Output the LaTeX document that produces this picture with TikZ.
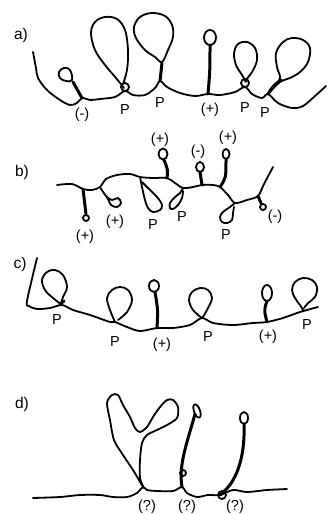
\documentclass[tikz,border=0pt]{standalone}
\usepackage{fontspec}
\setmainfont{Liberation Sans}
\begin{document}
\begin{tikzpicture}[x=1pt,y=-1pt,
  strand/.style={line width=1.8pt,line cap=round,line join=round},
  twist/.style={line width=3pt,line cap=round,line join=round},
  lbl/.style={font=\fontsize{14.5}{16}\selectfont,inner sep=0pt},
  panel/.style={font=\fontsize{15.5}{17}\selectfont,inner sep=0pt}]
\useasboundingbox (0,0) rectangle (327,514);

% ---------------- a) ----------------
\node[panel] (la) at (21,35) {a)};
\draw[strand] plot[smooth,tension=0.55] coordinates {(33,52) (36,68) (38,78) (47,90) (60,100) (70,105) (77,103) (82,98) (90,100) (100,99) (115,97) (125,91) (133,95) (145,95) (155,88) (160,81) (167,87) (180,93) (195,96) (208,94) (220,95) (235,92) (245,87) (252,94) (262,98) (268,94) (278,103) (292,108) (303,106) (315,96) (326,86)};
% (-) loop
\draw[twist] (82,98) .. controls (78,90) .. (73,82);
\draw[strand] plot[smooth cycle,tension=0.7] coordinates {(72,80) (66,81) (60,78) (59,72) (64,68) (70,70)};
% P loop 1
\draw[strand] (125,87) circle (4);
\draw[strand] plot[smooth,tension=0.6] coordinates {(123,84) (127,70) (128,50) (125,30) (117,19) (105,17) (95,22) (91,33) (95,50) (105,65) (116,78) (124,88)};
% P loop 2
\draw[twist] (160,81) -- (162,63);
\draw[strand] plot[smooth cycle,tension=0.6] coordinates {(162,62) (168,50) (173,37) (172,25) (165,16) (152,13) (140,17) (134,27) (136,38) (145,50) (155,57)};
% (+) hairpin
\draw[twist] (208,94) .. controls (210,70) .. (210,45);
\draw[strand] (210,37.5) ellipse (6 and 7.5);
% P loop 3
\draw[strand] (245,83) circle (4);
\draw[strand] plot[smooth,tension=0.6] coordinates {(245,81) (252,72) (257,60) (255,48) (247,42) (238,44) (234,53) (236,65) (242,75) (246,82)};
% P loop 4
\draw[twist] (268,94) .. controls (273,86) .. (281,80);
\draw[strand] plot[smooth,tension=0.6] coordinates {(268,94) (274,86) (280,78) (277,67) (276,53) (283,42) (292,38) (303,40) (310,48) (308,62) (300,72) (290,78) (280,82) (270,92)};
\node[lbl] (a1) at (82,115) {(-)};
\node[lbl] (a2) at (125,110) {P};
\node[lbl] (a3) at (160,103) {P};
\node[lbl] (a4) at (210,110) {(+)};
\node[lbl] (a5) at (245,108) {P};
\node[lbl] (a6) at (265,113) {P};

% ---------------- b) ----------------
\node[panel] (lb) at (22,172) {b)};
\draw[strand] plot[smooth,tension=0.5] coordinates {(57,185) (72,184) (83,189) (92,190) (100,187) (106,179) (117,175) (130,174) (140,177) (153,178) (167,178) (175,183) (183,188) (193,187) (202,185) (213,185) (220,187) (228,195) (235,203) (247,200) (258,196) (264,184) (273,167)};
% stems and loops
\draw[twist] (83,189) -- (86,214);
\draw[strand] (86,218) circle (3);
\draw[strand] plot[smooth,tension=0.6] coordinates {(100,187) (106,196) (112,200) (118,198) (121,203) (117,207) (111,205) (108,199) (101,189)};
\draw[strand] plot[smooth,tension=0.6] coordinates {(140,177) (142,187) (145,200) (148,208) (153,212) (160,210) (162,205) (157,197) (148,188) (142,182)};
\draw[twist] (167,178) .. controls (168,170) .. (164,160);
\draw[strand] (163,154) ellipse (4.5 and 5.5);
\draw[strand] plot[smooth,tension=0.6] coordinates {(183,188) (180,193) (175,197) (170,203) (170,208) (173,209) (178,205) (182,198) (183,191)};
\draw[twist] (202,185) -- (200,172);
\draw[strand] (200,167) ellipse (4 and 5);
\draw[twist] (220,187) .. controls (226,178) .. (226,159);
\draw[strand] (226,154) ellipse (3.5 and 5);
\draw[strand] plot[smooth,tension=0.6] coordinates {(235,203) (230,207) (223,212) (220,217) (222,222) (227,223) (232,220) (233,213) (234,207)};
\draw[twist] (258,196) -- (261,203);
\draw[strand] (263,207) circle (3);
\node[lbl] (b1) at (85,237) {(+)};
\node[lbl] (b2) at (115,222) {(+)};
\node[lbl] (b3) at (153,225) {P};
\node[lbl] (b4) at (182,217) {P};
\node[lbl] (b5) at (226,235) {P};
\node[lbl] (b6) at (275,217) {(-)};
\node[lbl] (b7) at (160,140) {(+)};
\node[lbl] (b8) at (198,152) {(-)};
\node[lbl] (b9) at (228,138) {(+)};

% ---------------- c) ----------------
\node[panel] (lc) at (20,264) {c)};
\draw[strand] plot[smooth,tension=0.5] coordinates {(37,258) (27,301) (29,306) (37,309) (50,308) (62,305) (73,310) (90,315) (110,322) (115,322) (127,327) (140,331) (157,328) (173,328) (190,325) (202,318) (213,323) (233,325) (253,323) (267,322) (283,318) (300,312) (318,307)};
\draw[twist] (60,304) -- (64,301);
\draw[strand] plot[smooth,tension=0.6] coordinates {(62,305) (53,298) (45,290) (42,280) (47,272) (55,270) (63,275) (67,287) (63,297) (61,304)};
\draw[strand] plot[smooth,tension=0.6] coordinates {(115,322) (110,310) (107,298) (112,290) (120,287) (128,290) (132,300) (127,312) (118,320)};
\draw[twist] (157,328) .. controls (158,310) .. (155,292);
\draw[strand] (154,286) ellipse (5 and 6);
\draw[strand] plot[smooth,tension=0.6] coordinates {(202,318) (193,310) (189,300) (192,292) (200,288) (208,290) (212,298) (208,308) (203,317)};
\draw[twist] (267,322) .. controls (264,310) .. (267,301);
\draw[strand] (267,293) ellipse (5 and 8);
\draw[strand] plot[smooth,tension=0.6] coordinates {(303,310) (300,305) (295,298) (292,290) (295,282) (303,278) (312,280) (317,287) (315,297) (308,303) (304,308)};
\node[lbl] (c1) at (57,320) {P};
\node[lbl] (c2) at (115,342) {P};
\node[lbl] (c3) at (162,345) {(+)};
\node[lbl] (c4) at (208,337) {P};
\node[lbl] (c5) at (268,337) {(+)};
\node[lbl] (c6) at (307,325) {P};

% ---------------- d) ----------------
\node[panel] (ld) at (22,404) {d)};
\draw[strand] plot[smooth,tension=0.5] coordinates {(33,498) (60,497) (80,495) (100,495) (113,497) (127,497) (137,493) (143,487) (147,490) (157,491) (173,491) (182,487) (187,493) (197,497) (208,495) (220,495) (233,490) (247,492) (267,490) (287,489)};
\draw[strand] plot[smooth,tension=0.5] coordinates {(143,487) (133,470) (123,455) (114,440) (110,420) (107,403) (112,395) (118,395) (123,405) (130,417) (135,428) (140,432) (147,427) (153,417) (160,407) (167,400) (173,400) (178,407) (177,418) (167,425) (157,430) (147,435) (142,443) (140,460) (140,478) (144,488)};
\draw[twist] (182,487) .. controls (178,465) and (188,440) .. (195,414);
\draw[strand] (183,473) circle (3);
\draw[strand,rotate around={20:(197,411)}] (197,411) ellipse (3 and 7);
\draw[strand] (222,495) circle (4);
\draw[twist] (220,495) .. controls (240,480) and (245,450) .. (244,424);
\draw[strand] (244,418) ellipse (4 and 6);
\node[lbl] (d1) at (147,507) {(?)};
\node[lbl] (d2) at (187,507) {(?)};
\node[lbl] (d3) at (235,507) {(?)};
\end{tikzpicture}
\end{document}
